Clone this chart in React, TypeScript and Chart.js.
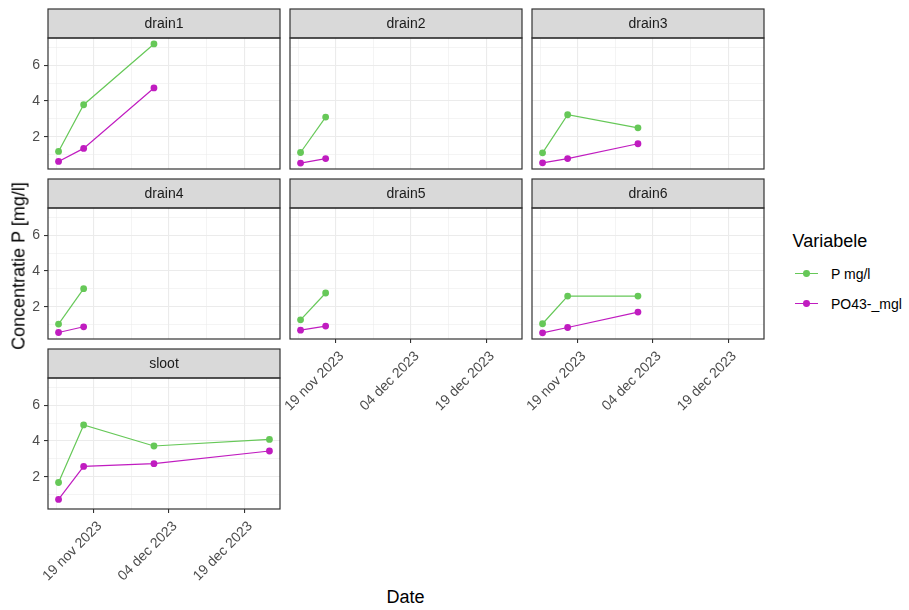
import React, { useEffect, useRef } from "react";
import { Chart, registerables } from "chart.js";

Chart.register(...registerables);

// ---------------- data ----------------
const sampleDates = ["2023-11-12", "2023-11-17", "2023-12-01", "2023-12-24"];
const facetNames = ["drain1", "drain2", "drain3", "drain4", "drain5", "drain6", "sloot"];
const seriesNames = ["P mg/l", "PO43-_mgl"];

const pDrain1 = [1.18, 3.79, 7.19];
const po4Drain1 = [0.62, 1.35, 4.73];
const pDrain2 = [1.12, 3.1];
const po4Drain2 = [0.53, 0.78];
const pDrain3 = [1.1, 3.23, 2.5];
const po4Drain3 = [0.54, 0.78, 1.61];
const pDrain4 = [1.03, 3.01];
const po4Drain4 = [0.56, 0.88];
const pDrain5 = [1.27, 2.77];
const po4Drain5 = [0.69, 0.92];
const pDrain6 = [1.05, 2.6, 2.6];
const po4Drain6 = [0.54, 0.84, 1.7];
const pSloot = [1.68, 4.9, 3.72, 4.09];
const po4Sloot = [0.73, 2.58, 2.73, 3.44];

const pSeries = [pDrain1, pDrain2, pDrain3, pDrain4, pDrain5, pDrain6, pSloot];
const po4Series = [po4Drain1, po4Drain2, po4Drain3, po4Drain4, po4Drain5, po4Drain6, po4Sloot];

const xTickDates = ["2023-11-19", "2023-12-04", "2023-12-19"];
const xTickLabels = ["19 nov 2023", "04 dec 2023", "19 dec 2023"];
const yTickValues = [2, 4, 6];

// ---------------- styling / layout ----------------
const FONT = '"Liberation Sans", Arial, Helvetica, sans-serif';
const GREEN = "#66C858";
const MAGENTA = "#C01CC0";
const seriesColors = [GREEN, MAGENTA];

const COL_LEFT = [48, 290, 532];
const ROW_TOP = [38, 208, 378];
const PANEL_W = 232;
const PANEL_H = 131;
const STRIP_H = 29;
const Y_AXIS_W = 48;
const X_AXIS_H = 95;
const X_LABEL_ROOM = 60;
const PAD = 3;

const toDay = (s: string) => Date.parse(s + "T00:00:00Z") / 86400000;

// scale limits with ggplot-like 5% expansion
const allX = sampleDates.map(toDay);
const allY = [...pSeries.flat(), ...po4Series.flat()];
const xLo = Math.min(...allX);
const xHi = Math.max(...allX);
const yLo = Math.min(...allY);
const yHi = Math.max(...allY);
const X_MIN = xLo - 0.05 * (xHi - xLo);
const X_MAX = xHi + 0.05 * (xHi - xLo);
const Y_MIN = yLo - 0.05 * (yHi - yLo);
const Y_MAX = yHi + 0.05 * (yHi - yLo);

const xMajor = xTickDates.map(toDay);
const xStep = xMajor[1] - xMajor[0];
const xAllTicks = (() => {
  const arr: number[] = [xMajor[0] - xStep / 2];
  xMajor.forEach((v) => {
    arr.push(v);
    arr.push(v + xStep / 2);
  });
  return arr.filter((v) => v >= X_MIN && v <= X_MAX);
})();
const yStep = yTickValues[1] - yTickValues[0];
const yAllTicks = (() => {
  const arr: number[] = [yTickValues[0] - yStep / 2];
  yTickValues.forEach((v) => {
    arr.push(v);
    arr.push(v + yStep / 2);
  });
  return arr.filter((v) => v >= Y_MIN && v <= Y_MAX);
})();

const isXMajor = (v: number) => xMajor.some((m) => Math.abs(m - v) < 1e-6);
const isYMajor = (v: number) => yTickValues.some((m) => Math.abs(m - v) < 1e-6);

const stripPlugin = {
  id: "facetStrip",
  afterDraw(chart: any, _args: any, opts: any) {
    const { ctx, chartArea: a } = chart;
    ctx.save();
    // strip
    ctx.fillStyle = "#D9D9D9";
    ctx.fillRect(a.left, a.top - STRIP_H, a.right - a.left, STRIP_H);
    ctx.strokeStyle = "#333333";
    ctx.lineWidth = 1.2;
    ctx.strokeRect(a.left, a.top - STRIP_H, a.right - a.left, STRIP_H);
    // panel border
    ctx.strokeRect(a.left, a.top, a.right - a.left, a.bottom - a.top);
    // strip text
    ctx.fillStyle = "#1A1A1A";
    ctx.font = `14px ${FONT}`;
    ctx.textAlign = "center";
    ctx.textBaseline = "middle";
    ctx.fillText(opts.title, (a.left + a.right) / 2, a.top - STRIP_H / 2 + 1);
    ctx.restore();
  },
};

function Panel({ idx }: { idx: number }) {
  const ref = useRef<HTMLCanvasElement>(null);
  const col = idx % 3;
  const row = Math.floor(idx / 3);
  const hasY = col === 0;
  const hasX = idx + 3 >= facetNames.length;
  const yw = hasY ? Y_AXIS_W : 0;
  const extraLeft = !hasY && hasX ? X_LABEL_ROOM : 0;
  const xh = hasX ? X_AXIS_H : 0;
  const left = COL_LEFT[col] - yw - extraLeft - PAD;
  const top = ROW_TOP[row] - STRIP_H - PAD;
  const width = yw + extraLeft + PANEL_W + 2 * PAD;
  const height = STRIP_H + PANEL_H + xh + 2 * PAD;

  useEffect(() => {
    const vals = [pSeries[idx], po4Series[idx]];
    const chart = new Chart(ref.current as HTMLCanvasElement, {
      type: "scatter",
      data: {
        datasets: vals.map((arr, s) => ({
          label: seriesNames[s],
          data: arr.map((y, i) => ({ x: toDay(sampleDates[i]), y })),
          showLine: true,
          borderColor: seriesColors[s],
          backgroundColor: seriesColors[s],
          pointBackgroundColor: seriesColors[s],
          pointBorderWidth: 0,
          pointRadius: 3.4,
          borderWidth: 1.2,
          tension: 0,
        })),
      },
      options: {
        animation: false,
        responsive: false,
        devicePixelRatio: 1,
        layout: {
          autoPadding: false,
          padding: {
            left: PAD + extraLeft,
            right: PAD,
            top: PAD + STRIP_H,
            bottom: PAD,
          },
        },
        plugins: {
          legend: { display: false },
          tooltip: { enabled: false },
          facetStrip: { title: facetNames[idx] },
        } as any,
        scales: {
          x: {
            type: "linear",
            min: X_MIN,
            max: X_MAX,
            afterBuildTicks: (s: any) => {
              s.ticks = xAllTicks.map((v) => ({ value: v }));
            },
            afterFit: (s: any) => {
              s.height = xh;
              s.paddingLeft = 0;
              s.paddingRight = 0;
              s.paddingTop = 0;
              s.paddingBottom = 0;
            },
            border: { display: false },
            grid: {
              color: "#EBEBEB",
              lineWidth: (c: any) => (c.tick && isXMajor(c.tick.value) ? 1.1 : 0.55),
              drawTicks: hasX,
              tickLength: 4,
              tickWidth: 1.1,
              tickColor: (c: any) =>
                c.tick && isXMajor(c.tick.value) ? "#333333" : "rgba(0,0,0,0)",
            },
            ticks: {
              display: hasX,
              autoSkip: false,
              minRotation: 45,
              maxRotation: 45,
              padding: 5,
              labelOffset: 6,
              color: "#4D4D4D",
              font: { family: FONT, size: 14 },
              callback: (v: any) => {
                const i = xMajor.findIndex((m) => Math.abs(m - Number(v)) < 1e-6);
                return i >= 0 ? xTickLabels[i] : "";
              },
            },
          },
          y: {
            type: "linear",
            min: Y_MIN,
            max: Y_MAX,
            afterBuildTicks: (s: any) => {
              s.ticks = yAllTicks.map((v) => ({ value: v }));
            },
            afterFit: (s: any) => {
              s.width = yw;
              s.paddingLeft = 0;
              s.paddingRight = 0;
              s.paddingTop = 0;
              s.paddingBottom = 0;
            },
            border: { display: false },
            grid: {
              color: "#EBEBEB",
              lineWidth: (c: any) => (c.tick && isYMajor(c.tick.value) ? 1.1 : 0.55),
              drawTicks: hasY,
              tickLength: 4,
              tickWidth: 1.1,
              tickColor: (c: any) =>
                c.tick && isYMajor(c.tick.value) ? "#333333" : "rgba(0,0,0,0)",
            },
            ticks: {
              display: hasY,
              autoSkip: false,
              padding: 4,
              color: "#4D4D4D",
              font: { family: FONT, size: 14 },
              callback: (v: any) => (isYMajor(Number(v)) ? String(v) : ""),
            },
          },
        },
      },
      plugins: [stripPlugin as any],
    });
    return () => chart.destroy();
  }, []);

  return (
    <canvas
      ref={ref}
      width={width}
      height={height}
      style={{ position: "absolute", left, top, width, height }}
    />
  );
}

function LegendKey({ color, label, cy }: { color: string; label: string; cy: number }) {
  return (
    <>
      <div
        style={{
          position: "absolute",
          left: 795,
          top: cy - 0.6,
          width: 23,
          height: 1.2,
          background: color,
        }}
      />
      <div
        style={{
          position: "absolute",
          left: 806.5 - 3.4,
          top: cy - 3.4,
          width: 6.8,
          height: 6.8,
          borderRadius: "50%",
          background: color,
        }}
      />
      <div
        style={{
          position: "absolute",
          left: 831,
          top: cy - 9,
          height: 18,
          lineHeight: "18px",
          fontSize: 14,
          fontFamily: FONT,
          color: "#000000",
          whiteSpace: "nowrap",
        }}
      >
        {label}
      </div>
    </>
  );
}

export default function App() {
  return (
    <div
      style={{
        position: "absolute",
        left: 0,
        top: 0,
        width: 909,
        height: 610,
        background: "#FFFFFF",
        overflow: "hidden",
        fontFamily: FONT,
      }}
    >
      {facetNames.map((_, i) => (
        <Panel key={i} idx={i} />
      ))}
      <div
        style={{
          position: "absolute",
          left: 18.5,
          top: 266,
          transform: "translate(-50%, -50%) rotate(-90deg)",
          fontSize: 18,
          color: "#000000",
          whiteSpace: "nowrap",
        }}
      >
        Concentratie P [mg/l]
      </div>
      <div
        style={{
          position: "absolute",
          left: 405.5,
          top: 597,
          transform: "translate(-50%, -50%)",
          fontSize: 18,
          color: "#000000",
          whiteSpace: "nowrap",
        }}
      >
        Date
      </div>
      <div
        style={{
          position: "absolute",
          left: 792.5,
          top: 241,
          transform: "translateY(-50%)",
          fontSize: 18,
          color: "#000000",
          whiteSpace: "nowrap",
        }}
      >
        Variabele
      </div>
      <LegendKey color={seriesColors[0]} label={seriesNames[0]} cy={273.5} />
      <LegendKey color={seriesColors[1]} label={seriesNames[1]} cy={303.5} />
    </div>
  );
}
